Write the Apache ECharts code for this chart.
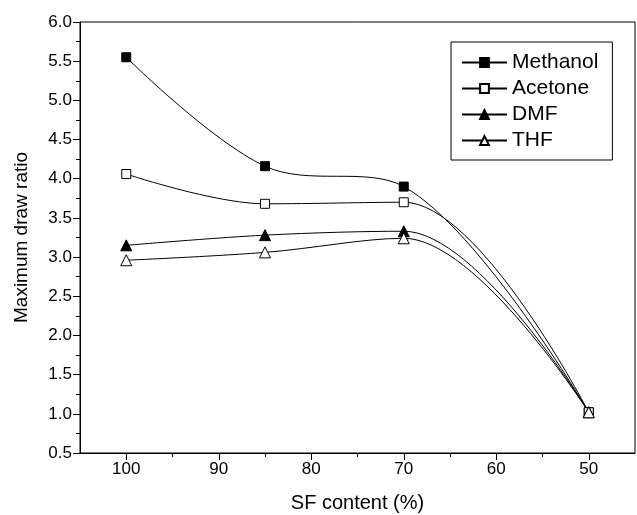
<!DOCTYPE html>
<html>
<head>
<meta charset="utf-8">
<script src="https://cdn.jsdelivr.net/npm/echarts@6/dist/echarts.min.js"></script>
<style>
html,body{margin:0;padding:0;background:#fff;}
#chart{width:637px;height:515px;}
</style>
</head>
<body>
<div id="chart"></div>
<script>
// ---- data ----
var sfContent = [100, 85, 70, 50];
var methanol = [5.55, 4.16, 3.90, 1.02];
var acetone  = [4.06, 3.68, 3.70, 1.02];
var dmf      = [3.15, 3.28, 3.33, 1.02];
var thf      = [2.96, 3.06, 3.24, 1.02];
var xTickValues = [100, 90, 80, 70, 60, 50];
var xMinorValues = [95, 85, 75, 65, 55];

var FONT = '"Liberation Sans", Arial, sans-serif';

function pairs(ys) { return sfContent.map(function (x, i) { return [x, ys[i]]; }); }

function mkSeries(name, ys, symbol, filled) {
  return {
    name: name,
    type: 'line',
    data: pairs(ys),
    smooth: 0.35,
    symbol: symbol,
    symbolSize: symbol === 'triangle' ? 11 : 9,
    showAllSymbol: true,
    lineStyle: { color: '#000', width: 1 },
    itemStyle: { color: filled ? '#000' : '#fff', borderColor: '#000', borderWidth: 1 },
    emphasis: { disabled: true },
    z: 3
  };
}

var chart = echarts.init(document.getElementById('chart'), null, { renderer: 'canvas' });
chart.setOption({
  animation: false,
  backgroundColor: '#fff',
  textStyle: { fontFamily: FONT, color: '#000' },
  grid: { left: 80, right: 2, top: 22, bottom: 62, outerBoundsMode: 'none', containLabel: false, show: true, borderColor: '#000', borderWidth: 1, backgroundColor: 'transparent' },
  legend: {
    left: 451, top: 42,
    orient: 'vertical',
    itemWidth: 45, itemHeight: 11, itemGap: 5,
    padding: [10, 14, 9, 10],
    borderColor: '#000', borderWidth: 1,
    textStyle: { fontFamily: FONT, fontSize: 21, color: '#000', lineHeight: 20 },
    data: ['Methanol', 'Acetone', 'DMF', 'THF']
  },
  xAxis: [{
    type: 'value',
    min: 45, max: 105,
    inverse: true,
    name: 'SF content (%)',
    nameLocation: 'middle',
    nameGap: 40,
    nameTextStyle: { fontFamily: FONT, fontSize: 20, color: '#000' },
    axisLine: { show: true, lineStyle: { color: '#000', width: 1 } },
    axisTick: { show: true, inside: false, length: 7, customValues: xTickValues, lineStyle: { color: '#000' } },
    axisLabel: { customValues: xTickValues, margin: 8, fontFamily: FONT, fontSize: 17, color: '#000' },
    splitLine: { show: false }
  }, {
    type: 'value',
    min: 45, max: 105,
    inverse: true,
    position: 'bottom',
    axisLine: { show: false },
    axisTick: { show: true, inside: false, length: 4, customValues: xMinorValues, lineStyle: { color: '#000' } },
    axisLabel: { show: false },
    splitLine: { show: false }
  }],
  yAxis: {
    type: 'value',
    min: 0.5, max: 6.0, interval: 0.5,
    name: 'Maximum draw ratio',
    nameLocation: 'middle',
    nameGap: 49,
    nameTextStyle: { fontFamily: FONT, fontSize: 19, color: '#000' },
    axisLine: { show: true, lineStyle: { color: '#000', width: 1 } },
    axisTick: { show: true, inside: false, length: 7, lineStyle: { color: '#000' } },
    minorTick: { show: true, splitNumber: 2, length: 4, lineStyle: { color: '#000' } },
    axisLabel: { margin: 8, fontFamily: FONT, fontSize: 17, color: '#000', formatter: function (v) { return v.toFixed(1); } },
    splitLine: { show: false }
  },
  series: [
    mkSeries('Methanol', methanol, 'rect', true),
    mkSeries('Acetone', acetone, 'rect', false),
    mkSeries('DMF', dmf, 'triangle', true),
    mkSeries('THF', thf, 'triangle', false)
  ]
});
</script>
</body>
</html>
